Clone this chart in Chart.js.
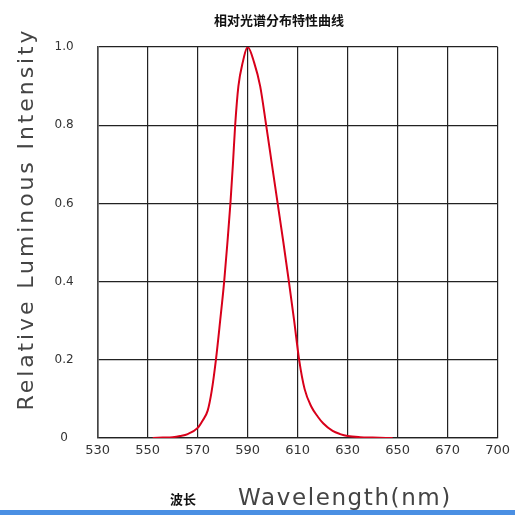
<!DOCTYPE html>
<html>
<head>
<meta charset="utf-8">
<script src="https://cdn.jsdelivr.net/npm/chart.js@4.4.1/dist/chart.umd.min.js"></script>
<style>
    body { margin: 0; background: #fff; }
    #wrap { width: 515px; height: 515px; }
</style>
</head>
<body>
<div id="wrap"><canvas id="curva" width="515" height="515"></canvas></div>
<script>
// Comprimento de onda (nm) e intensidade relativa
const wavelengths = [552, 556, 560, 563, 566, 570, 572, 574, 575.6, 577.3, 579, 580.6, 581.9, 583.1, 584.1, 585, 586.3, 588, 590,
    592.6, 595, 597.4, 599.7, 602, 604.3, 606.5, 608.6, 610.6, 612.8, 615.5, 618, 620.3, 624, 627, 630, 635, 640, 648];
const intensity = [0, 0.001, 0.002, 0.005, 0.01, 0.026, 0.045, 0.07, 0.12, 0.2, 0.3, 0.4, 0.5, 0.6, 0.7, 0.8, 0.9, 0.96, 1.0,
    0.96, 0.9, 0.8, 0.7, 0.6, 0.5, 0.4, 0.3, 0.2, 0.125, 0.08, 0.055, 0.037, 0.018, 0.01, 0.005, 0.002, 0.001, 0];

// Eixo X: passos iguais, mas o último rótulo salta de 670 para 700
const xTickValues = [530, 550, 570, 590, 610, 630, 650, 670, 690];
const xTickLabels = ['530', '550', '570', '590', '610', '630', '650', '670', '700'];
const yTickValues = [0, 0.2, 0.4, 0.6, 0.8, 1.0];
const yTickLabels = ['0', '0.2', '0.4', '0.6', '0.8', '1.0'];

const titulo = '相对光谱分布特性曲线';
const tituloY = 'Relative Luminous Intensity';
const tituloXcn = '波长';
const tituloXen = 'Wavelength(nm)';

// Textos e faixa azul desenhados por cima do gráfico
const textos = {
    id: 'textos',
    afterDraw(chart) {
        const c = chart.ctx;
        c.save();
        c.fillStyle = '#111';
        c.textAlign = 'center';
        c.textBaseline = 'middle';
        c.font = 'bold 13px "Noto Sans CJK SC"';
        c.fillText(titulo, 279, 20);
        c.fillText(tituloXcn, 183, 499);

        c.fillStyle = '#444';
        c.textBaseline = 'alphabetic';
        c.font = '23px "DejaVu Sans"';
        c.letterSpacing = '1.6px';
        c.fillText(tituloXen, 345, 505);

        c.translate(33, 219);
        c.rotate(-Math.PI / 2);
        c.font = '22px "DejaVu Sans"';
        c.letterSpacing = '2.9px';
        c.fillText(tituloY, 0, 0);
        c.restore();

        c.save();
        c.fillStyle = '#4a8fe3';
        c.fillRect(0, 510, 515, 5);
        c.restore();
    }
};

const ctx = document.getElementById('curva').getContext('2d');

const curvaChart = new Chart(ctx, {
    type: 'line',
    data: {
        datasets: [{
            data: wavelengths.map((w, i) => ({ x: w, y: intensity[i] })),
            borderColor: '#d8001a',
            borderWidth: 2,
            pointRadius: 0,
            fill: false,
            cubicInterpolationMode: 'monotone',
        }],
    },
    options: {
        responsive: false,
        animation: false,
        layout: { padding: { top: 47, right: 16.7, left: 0, bottom: 0 } },
        plugins: {
            legend: { display: false },
            title: { display: false },
            tooltip: { enabled: false },
        },
        scales: {
            x: {
                type: 'linear',
                min: 530,
                max: 690,
                afterBuildTicks: (s) => { s.ticks = xTickValues.map(v => ({ value: v })); },
                afterFit: (s) => { s.height = 77; },
                ticks: {
                    callback: (v, i) => xTickLabels[i],
                    autoSkip: false,
                    maxRotation: 0,
                    padding: 5,
                    color: '#333',
                    font: { family: 'DejaVu Sans', size: 13 },
                },
                grid: { color: '#222', lineWidth: 1.2, drawTicks: false },
                border: { color: '#222', width: 1.2 },
            },
            y: {
                min: 0,
                max: 1,
                afterBuildTicks: (s) => { s.ticks = yTickValues.map(v => ({ value: v })); },
                afterFit: (s) => { s.width = 97.7; },
                ticks: {
                    callback: (v, i) => yTickLabels[i],
                    crossAlign: 'center',
                    padding: 24,
                    color: '#333',
                    font: { family: 'DejaVu Sans', size: 12 },
                },
                grid: { color: '#222', lineWidth: 1.2, drawTicks: false },
                border: { color: '#444', width: 1.6 },
            },
        },
    },
    plugins: [textos],
});
</script>
</body>
</html>
